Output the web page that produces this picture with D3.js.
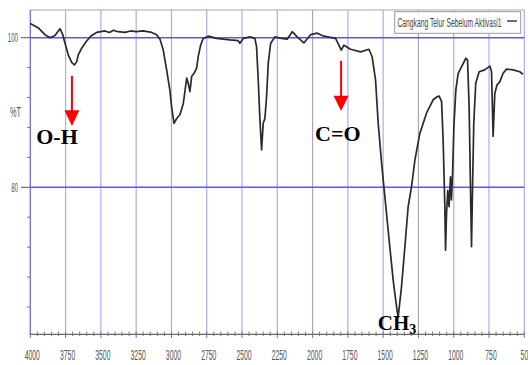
<!DOCTYPE html>
<html>
<head>
<meta charset="utf-8">
<script src="https://cdn.jsdelivr.net/npm/d3@7"></script>
<style>
  body { margin: 0; background: #fff; }
  svg { display: block; }
</style>
</head>
<body>
<svg id="ftir"></svg>
<script>
// spectrum: wavenumber (cm-1) and %T
const wavenumbers = [4000, 3943, 3896, 3860, 3825, 3790, 3770, 3754, 3731, 3707, 3688, 3671, 3660, 3636, 3601, 3565, 3530,
  3471, 3440, 3410, 3380, 3329, 3290, 3250, 3200, 3140, 3105, 3081, 3058, 3034, 3011, 2999, 2982, 2963, 2940, 2916,
  2892, 2881, 2869, 2857, 2841, 2822, 2810, 2793, 2775, 2739, 2680, 2586, 2527, 2515, 2491, 2444, 2409, 2397, 2385,
  2373, 2361, 2350, 2338, 2326, 2314, 2297, 2267, 2232, 2180, 2144, 2109, 2062, 2014, 1967, 1920, 1837, 1797, 1778,
  1731, 1660, 1601, 1578, 1554, 1535, 1511, 1495, 1453, 1429, 1405, 1394, 1370, 1346, 1323, 1299, 1275, 1240, 1193,
  1146, 1118, 1103, 1086, 1075, 1063, 1058, 1051, 1042, 1033, 1023, 1016, 1008, 999, 985, 969, 945, 914, 902, 891,
  881, 874, 867, 858, 844, 820, 780, 744, 732, 721, 709, 693, 674, 650, 626, 579, 532, 509];
const transmittance = [101.9, 101.3, 100.4, 100.0, 100.3, 101.2, 100.4, 99.25, 97.7, 96.7, 96.35, 96.8, 97.7, 98.6, 99.55, 100.3, 100.7,
  100.9, 100.7, 101.0, 100.8, 100.7, 100.9, 100.8, 100.9, 100.7, 100.4, 99.8, 98.35, 95.7, 93.0, 90.8, 88.55, 89.2, 89.7, 91.2,
  94.6, 93.9, 92.8, 94.8, 95.2, 95.9, 97.5, 99.0, 99.9, 100.2, 99.9, 99.7, 99.6, 99.25, 99.9, 100.1, 99.9, 98.8, 94.3,
  89.0, 85.0, 88.55, 89.2, 92.1, 96.6, 99.25, 100.1, 99.95, 99.8, 100.8, 100.1, 99.3, 100.4, 100.6, 100.2, 99.9, 98.35, 99.0,
  98.45, 98.1, 98.45, 97.45, 94.35, 88.55, 83.2, 80.1, 72.05, 67.6, 64.0, 62.6, 66.7, 72.05, 77.4, 80.1, 83.65, 87.2, 89.9,
  91.7, 92.1, 92.2, 91.45, 86.3, 77.4, 71.6, 76.5, 79.6, 77.4, 81.4, 78.3, 81.9, 88.1, 93.0, 95.2, 96.1, 97.25, 97.0, 90.8,
  79.6, 72.05, 79.6, 88.55, 93.9, 95.45, 95.7, 96.2, 95.45, 86.8, 92.55, 93.7, 94.1, 95.25, 95.8, 95.7, 95.45, 95.1];

const xTicks = [4000, 3750, 3500, 3250, 3000, 2750, 2500, 2250, 2000, 1750, 1500, 1250, 1000, 750, 500];
const yTicks = [100, 80];
const yMinorTicks = [96, 92, 88, 84, 76, 72, 68, 64];
const seriesName = "Cangkang Telur Sebelum Aktivasi1";

// band labels: wavenumber of the arrow, %T at arrow start / head / tip, label anchor
const bands = [
  { label: "O-H", wn: 3705, top: 94.9, head: 90.3, tip: 88.2, textWn: 3811, textT: 85.8 },
  { label: "C=O", wn: 1798, top: 96.9, head: 92.25, tip: 90.2, textWn: 1821, textT: 86.2 }
];

const width = 528, height = 365;
const svg = d3.select("#ftir").attr("width", width).attr("height", height);

const x = d3.scaleLinear().domain([4000, 500]).range([30.3, 524.3]);
const y = d3.scaleLinear().domain([60.35, 103.7]).range([334.3, 10]);

// frame
svg.append("line").attr("x1", 30.3).attr("x2", 524.3).attr("y1", 10).attr("y2", 10)
  .attr("stroke", "#c4c4c4").attr("stroke-width", 1.5);

// vertical gridlines
svg.append("g").selectAll("line")
  .data(xTicks.slice(1))
  .join("line")
  .attr("x1", d => x(d)).attr("x2", d => x(d))
  .attr("y1", 10).attr("y2", 334)
  .attr("stroke", d => (d === 2000 || d === 1250) ? "#a8a8b8" : "#a9acf3")
  .attr("stroke-width", 1.2);

// horizontal gridlines
svg.append("g").selectAll("line")
  .data(yTicks)
  .join("line")
  .attr("x1", 30.3).attr("x2", 524.3)
  .attr("y1", d => y(d)).attr("y2", d => y(d))
  .attr("stroke", "#5a5ae6").attr("stroke-width", 1.6);

// left axis
svg.append("line").attr("x1", 30.3).attr("x2", 30.3).attr("y1", 10).attr("y2", 335)
  .attr("stroke", "#6b6be0").attr("stroke-width", 1.3);

const yAxis = svg.append("g");
yAxis.selectAll("line.major").data(yTicks).join("line").attr("class", "major")
  .attr("x1", 21).attr("x2", 30).attr("y1", d => y(d)).attr("y2", d => y(d))
  .attr("stroke", "#555").attr("stroke-width", 1);
yAxis.selectAll("line.minor").data(yMinorTicks).join("line").attr("class", "minor")
  .attr("x1", 27).attr("x2", 30).attr("y1", d => y(d)).attr("y2", d => y(d))
  .attr("stroke", "#777").attr("stroke-width", 1);
yAxis.selectAll("text").data(yTicks).join("text")
  .attr("x", 18).attr("y", d => y(d) + 4.5)
  .attr("text-anchor", "end")
  .attr("font-family", "Liberation Sans Narrow, Liberation Sans, Arial, sans-serif")
  .attr("font-size", 13)
  .attr("textLength", d => String(d).length * 3.4)
  .attr("lengthAdjust", "spacingAndGlyphs")
  .attr("fill", "#555")
  .text(d => d);
svg.append("text")
  .attr("x", 10).attr("y", 117)
  .attr("font-family", "Liberation Sans Narrow, Liberation Sans, Arial, sans-serif")
  .attr("font-size", 14)
  .attr("textLength", 11)
  .attr("lengthAdjust", "spacingAndGlyphs")
  .attr("fill", "#555")
  .text("%T");

// bottom axis
svg.append("line").attr("x1", 30.3).attr("x2", 524.3).attr("y1", 334.3).attr("y2", 334.3)
  .attr("stroke", "#666").attr("stroke-width", 1.2);
const minorX = d3.range(4000, 499, -50);
svg.append("g").selectAll("line")
  .data(minorX)
  .join("line")
  .attr("x1", d => x(d)).attr("x2", d => x(d))
  .attr("y1", 331.5).attr("y2", d => d % 250 === 0 ? 338 : 336)
  .attr("stroke", "#777").attr("stroke-width", 1);
svg.append("g").selectAll("text")
  .data(xTicks)
  .join("text")
  .attr("x", d => x(d) + 2)
  .attr("y", 360)
  .attr("text-anchor", "middle")
  .attr("font-family", "Liberation Sans Narrow, Liberation Sans, Arial, sans-serif")
  .attr("font-size", 15)
  .attr("textLength", d => String(d).length * 3.8)
  .attr("lengthAdjust", "spacingAndGlyphs")
  .attr("fill", "#555")
  .text(d => d);

// spectrum
const points = wavenumbers.map((w, i) => [w, transmittance[i]]);
const line = d3.line().x(d => x(d[0])).y(d => y(d[1])).curve(d3.curveLinear);
svg.append("path")
  .datum(points)
  .attr("d", line)
  .attr("fill", "none")
  .attr("stroke", "#2a2a2a")
  .attr("stroke-width", 1.7)
  .attr("stroke-linejoin", "round");

// legend
const legend = svg.append("g");
legend.append("rect")
  .attr("x", 394.7).attr("y", 11.7).attr("width", 126).attr("height", 21.6)
  .attr("fill", "#fff").attr("stroke", "#9a9a9a").attr("stroke-width", 1);
legend.append("text")
  .attr("x", 397.5).attr("y", 27)
  .attr("font-family", "Liberation Sans Narrow, Liberation Sans, Arial, sans-serif")
  .attr("font-size", 12)
  .attr("textLength", 104)
  .attr("lengthAdjust", "spacingAndGlyphs")
  .attr("fill", "#444")
  .text(seriesName);
legend.append("line")
  .attr("x1", 507).attr("x2", 517).attr("y1", 21).attr("y2", 21)
  .attr("stroke", "#333").attr("stroke-width", 1.4);

// band annotations
const ann = svg.append("g").selectAll("g").data(bands).join("g");
ann.append("line")
  .attr("x1", d => x(d.wn)).attr("x2", d => x(d.wn))
  .attr("y1", d => y(d.top)).attr("y2", d => y(d.head) + 1)
  .attr("stroke", "#ff0000").attr("stroke-width", 2);
ann.append("path")
  .attr("d", d => {
    const cx = x(d.wn), hy = y(d.head), ty = y(d.tip);
    return `M${cx - 7.5},${hy}L${cx + 7.5},${hy}L${cx},${ty}Z`;
  })
  .attr("fill", "#ff0000");
ann.append("text")
  .attr("x", d => x(d.textWn))
  .attr("y", d => y(d.textT))
  .attr("text-anchor", "middle")
  .attr("font-family", "Liberation Serif, Times New Roman, serif")
  .attr("font-weight", "bold")
  .attr("font-size", 22)
  .attr("fill", "#000")
  .text(d => d.label);

const ch3 = svg.append("text")
  .attr("x", x(1538)).attr("y", y(60.9))
  .attr("font-family", "Liberation Serif, Times New Roman, serif")
  .attr("font-weight", "bold")
  .attr("font-size", 21)
  .attr("fill", "#000");
ch3.append("tspan").text("CH");
ch3.append("tspan").attr("font-size", 14).attr("dy", 4).text("3");
</script>
</body>
</html>
